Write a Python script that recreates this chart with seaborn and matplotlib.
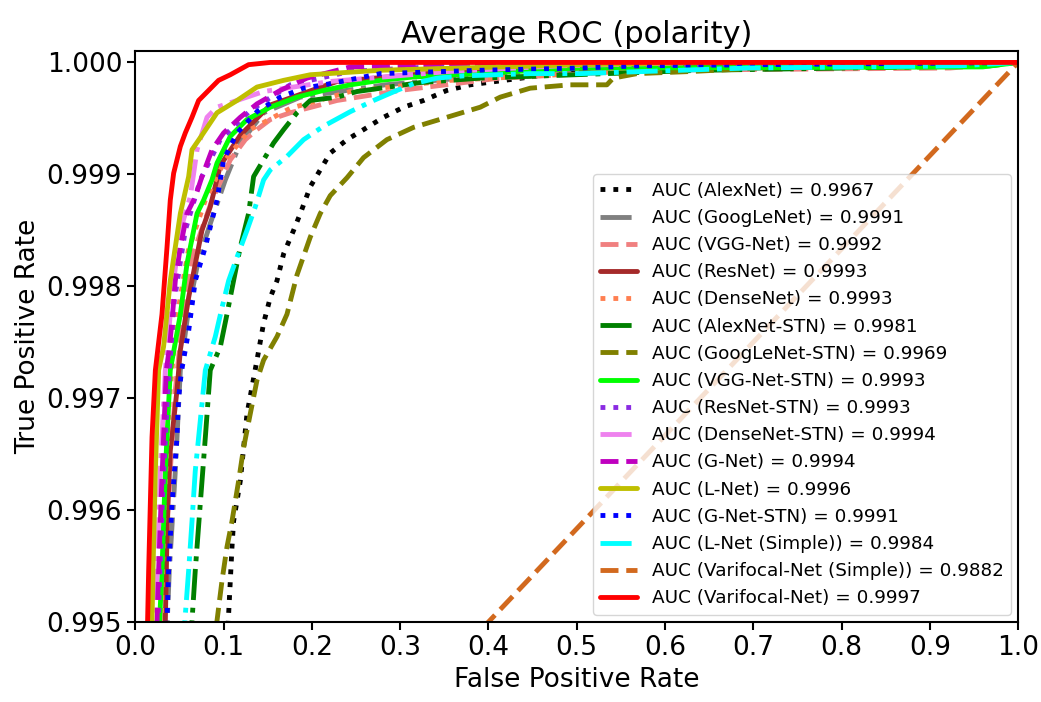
import numpy as np
import pandas as pd
import matplotlib
matplotlib.use('Agg')
import matplotlib.pyplot as plt
import seaborn as sns

sns.set_style('ticks', rc={'axes.edgecolor': 'black', 'text.color': 'black',
                           'axes.labelcolor': 'black', 'xtick.color': 'black',
                           'ytick.color': 'black'})
plt.rcParams['font.family'] = ['DejaVu Sans']

# values (fpr, tpr)
alexnet_fpr = [0.0, 0.1053, 0.1076, 0.1095, 0.1113, 0.1189, 0.1227, 0.1265, 0.1378, 0.1453, 0.1529, 0.1605, 0.1680, 0.1793, 0.1869, 0.1982, 0.2208, 0.2398, 0.2586, 0.2812, 0.3039, 0.3265, 0.3530, 0.3794, 0.4663, 0.527, 0.753, 1.0]
alexnet_tpr = [0.0, 0.99501, 0.99537, 0.99567, 0.99590, 0.99626, 0.99656, 0.99686, 0.99734, 0.99767, 0.99790, 0.99805, 0.99829, 0.99850, 0.99865, 0.99889, 0.99919, 0.99931, 0.99940, 0.99951, 0.99960, 0.99966, 0.99975, 0.99980, 0.99989, 0.99992, 0.99995, 1.0]

googlenet_fpr = [0.0, 0.0362, 0.0385, 0.0453, 0.0510, 0.0600, 0.0713, 0.0849, 0.1019, 0.1189, 0.1453, 0.1869, 0.2831, 0.413, 0.583, 0.81, 1.0]
googlenet_tpr = [0.0, 0.99501, 0.99546, 0.99635, 0.99725, 0.99778, 0.99823, 0.99856, 0.99895, 0.99928, 0.99955, 0.99969, 0.99980, 0.99989, 0.99995, 0.99999, 1.0]

vgg_fpr = [0.0, 0.0328, 0.0351, 0.0396, 0.0453, 0.0532, 0.0642, 0.0869, 0.1076, 0.1246, 0.1378, 0.1529, 0.1755, 0.1945, 0.2284, 0.300, 0.413, 0.583, 0.923, 1.0]
vgg_tpr = [0.0, 0.99501, 0.99572, 0.99635, 0.99707, 0.99769, 0.99826, 0.99877, 0.99913, 0.99931, 0.99940, 0.99949, 0.99955, 0.99959, 0.99966, 0.99975, 0.99986, 0.99993, 0.99995, 1.0]

resnet_fpr = [0.0, 0.0340, 0.0362, 0.0396, 0.0472, 0.0510, 0.0604, 0.0679, 0.0755, 0.0849, 0.0963, 0.1189, 0.1529, 0.2285, 0.357, 0.47, 0.64, 1.0]
resnet_tpr = [0.0, 0.99501, 0.99590, 0.99653, 0.99707, 0.99743, 0.99790, 0.99820, 0.99850, 0.99871, 0.99908, 0.99935, 0.99962, 0.99983, 0.99992, 0.99994, 0.99999, 1.0]

densenet_fpr = [0.0, 0.0294, 0.0328, 0.0385, 0.0464, 0.0600, 0.0793, 0.1019, 0.1302, 0.1755, 0.2435, 0.357, 0.527, 0.753, 1.0]
densenet_tpr = [0.0, 0.99501, 0.99608, 0.99698, 0.99769, 0.99832, 0.99877, 0.99913, 0.99940, 0.99959, 0.99974, 0.99984, 0.99991, 0.99997, 1.0]

alexnet_stn_fpr = [0.0, 0.0642, 0.0679, 0.0736, 0.0793, 0.0849, 0.0963, 0.1038, 0.1113, 0.1189, 0.1283, 0.1340, 0.1453, 0.1566, 0.1680, 0.1831, 0.1982, 0.2284, 0.2511, 0.3228, 0.3907, 0.64, 0.968, 1.0]
alexnet_stn_tpr = [0.0, 0.99501, 0.99546, 0.99606, 0.99665, 0.99725, 0.99746, 0.99775, 0.99805, 0.99835, 0.99865, 0.99898, 0.99913, 0.99928, 0.99940, 0.99955, 0.99966, 0.99969, 0.99974, 0.99982, 0.99986, 0.99993, 0.99997, 1.0]

googlenet_stn_fpr = [0.0, 0.0925, 0.0982, 0.1038, 0.1095, 0.1170, 0.1227, 0.1302, 0.1378, 0.1453, 0.1605, 0.1718, 0.1831, 0.1982, 0.2095, 0.2208, 0.2398, 0.2586, 0.2850, 0.3152, 0.3530, 0.3907, 0.4134, 0.4473, 0.4926, 0.5342, 0.5413, 0.5682, 0.632, 0.708, 1.0]
googlenet_stn_tpr = [0.0, 0.99501, 0.99537, 0.99567, 0.99590, 0.99626, 0.99656, 0.99686, 0.99716, 0.99734, 0.99755, 0.99775, 0.99810, 0.99844, 0.99865, 0.99881, 0.99897, 0.99915, 0.99931, 0.99942, 0.99951, 0.99960, 0.99969, 0.99977, 0.99980, 0.99980, 0.99986, 0.99990, 0.99992, 0.99995, 1.0]

vgg_stn_fpr = [0.0, 0.0275, 0.0302, 0.0340, 0.0396, 0.0510, 0.0585, 0.0699, 0.0774, 0.0868, 0.0925, 0.1076, 0.1265, 0.1529, 0.1831, 0.2132, 0.2438, 0.2775, 0.3148, 0.504, 0.960, 1.0]
vgg_stn_tpr = [0.0, 0.99501, 0.99546, 0.99635, 0.99725, 0.99775, 0.99820, 0.99865, 0.99877, 0.99895, 0.99910, 0.99934, 0.99949, 0.99960, 0.99969, 0.99975, 0.99980, 0.99984, 0.99987, 0.99995, 0.99996, 1.0]

resnet_stn_fpr = [0.0, 0.026, 0.0306, 0.0362, 0.0442, 0.0566, 0.0736, 0.0963, 0.1302, 0.1755, 0.2435, 0.357, 1.0]
resnet_stn_tpr = [0.0, 0.99501, 0.99608, 0.99698, 0.99787, 0.99850, 0.99895, 0.99931, 0.99957, 0.99980, 0.99992, 0.99997, 1.0]

densenet_stn_fpr = [0.0, 0.0232, 0.0283, 0.0340, 0.0419, 0.0510, 0.0623, 0.0699, 0.0812, 0.0925, 0.1453, 0.2208, 0.357, 0.481, 0.64, 1.0]
densenet_stn_tpr = [0.0, 0.99501, 0.99635, 0.99725, 0.99796, 0.99850, 0.99880, 0.99922, 0.99951, 0.99960, 0.99974, 0.99983, 0.99992, 0.99997, 1.0, 1.0]

gnet_fpr = [0.0, 0.0246, 0.0264, 0.0291, 0.0320, 0.0351, 0.0388, 0.0422, 0.0453, 0.0510, 0.0585, 0.0680, 0.0755, 0.0869, 0.1000, 0.1189, 0.1378, 0.1642, 0.1945, 0.2435, 0.334, 0.413, 1.0]
gnet_tpr = [0.0, 0.99501, 0.99546, 0.99606, 0.99665, 0.99725, 0.99746, 0.99775, 0.99805, 0.99835, 0.99865, 0.99880, 0.99898, 0.99922, 0.99937, 0.99951, 0.99963, 0.99975, 0.99986, 0.99996, 0.99998, 1.0, 1.0]

lnet_fpr = [0.0, 0.0189, 0.0200, 0.0227, 0.0264, 0.0320, 0.0396, 0.0510, 0.0604, 0.0642, 0.0755, 0.0925, 0.1152, 0.1378, 0.1680, 0.1982, 0.2775, 0.504, 0.64, 1.0]
lnet_tpr = [0.0, 0.99501, 0.99546, 0.99635, 0.99725, 0.99746, 0.99805, 0.99865, 0.99898, 0.99922, 0.99935, 0.99955, 0.99966, 0.99978, 0.99984, 0.99989, 0.99993, 0.99998, 1.0, 1.0]

gnet_stn_fpr = [0.0, 0.0359, 0.0377, 0.0416, 0.0472, 0.0490, 0.0521, 0.0604, 0.0679, 0.0793, 0.0925, 0.1000, 0.1152, 0.1378, 0.1642, 0.1906, 0.2208, 0.2775, 0.3907, 0.504, 0.572, 1.0]
gnet_stn_tpr = [0.0, 0.99501, 0.99546, 0.99606, 0.99665, 0.99700, 0.99723, 0.99760, 0.99805, 0.99835, 0.99877, 0.99913, 0.99937, 0.99956, 0.99969, 0.99977, 0.99981, 0.99990, 0.99993, 0.99995, 0.99997, 1.0]

lnet_simple_fpr = [0.0, 0.0561, 0.0604, 0.0642, 0.0679, 0.0736, 0.0793, 0.0906, 0.0982, 0.1057, 0.1152, 0.1265, 0.1359, 0.1453, 0.1529, 0.1718, 0.1906, 0.2132, 0.2435, 0.2699, 0.2964, 0.3152, 0.3417, 0.3718, 0.4473, 0.504, 0.693, 0.934, 1.0]
lnet_simple_tpr = [0.0, 0.99501, 0.99546, 0.99590, 0.99635, 0.99680, 0.99725, 0.99755, 0.99781, 0.99805, 0.99826, 0.99850, 0.99871, 0.99895, 0.99904, 0.99916, 0.99931, 0.99943, 0.99956, 0.99966, 0.99975, 0.99981, 0.99986, 0.99988, 0.99990, 0.99990, 0.99995, 0.99997, 1.0]

varifocal_simple_fpr = [0.0, 0.28, 1.0]
varifocal_simple_tpr = [0.0, 0.994, 1.0]

varifocal_fpr = [0.0, 0.0139, 0.0151, 0.0170, 0.0189, 0.0227, 0.0302, 0.0359, 0.0396, 0.0434, 0.0510, 0.0566, 0.0642, 0.0717, 0.0830, 0.0943, 0.1076, 0.1283, 0.1529, 1.0]
varifocal_tpr = [0.0, 0.99501, 0.99546, 0.99606, 0.99665, 0.99725, 0.99775, 0.99835, 0.99877, 0.99901, 0.99925, 0.99937, 0.99951, 0.99966, 0.99975, 0.99984, 0.99989, 0.99998, 1.0, 1.0]

names = ['AlexNet', 'GoogLeNet', 'VGG-Net', 'ResNet', 'DenseNet', 'AlexNet-STN',
         'GoogLeNet-STN', 'VGG-Net-STN', 'ResNet-STN', 'DenseNet-STN', 'G-Net',
         'L-Net', 'G-Net-STN', 'L-Net (Simple)', 'Varifocal-Net (Simple)', 'Varifocal-Net']
aucs = [0.9967, 0.9991, 0.9992, 0.9993, 0.9993, 0.9981, 0.9969, 0.9993,
        0.9993, 0.9994, 0.9994, 0.9996, 0.9991, 0.9984, 0.9882, 0.9997]
fprs = [alexnet_fpr, googlenet_fpr, vgg_fpr, resnet_fpr, densenet_fpr, alexnet_stn_fpr,
        googlenet_stn_fpr, vgg_stn_fpr, resnet_stn_fpr, densenet_stn_fpr, gnet_fpr,
        lnet_fpr, gnet_stn_fpr, lnet_simple_fpr, varifocal_simple_fpr, varifocal_fpr]
tprs = [alexnet_tpr, googlenet_tpr, vgg_tpr, resnet_tpr, densenet_tpr, alexnet_stn_tpr,
        googlenet_stn_tpr, vgg_stn_tpr, resnet_stn_tpr, densenet_stn_tpr, gnet_tpr,
        lnet_tpr, gnet_stn_tpr, lnet_simple_tpr, varifocal_simple_tpr, varifocal_tpr]

colors = ['black', 'gray', 'lightcoral', 'brown', 'coral', 'green', 'olive', 'lime',
          'blueviolet', 'violet', 'm', 'y', 'b', 'cyan', 'chocolate', 'r']
styles = [':', '-.', '--', '-']

fig, ax = plt.subplots(figsize=(10.41, 7.02), dpi=100)
for i in range(len(names)):
    df = pd.DataFrame({'fpr': fprs[i], 'tpr': tprs[i]})
    sns.lineplot(data=df, x='fpr', y='tpr', sort=False, ax=ax, color=colors[i],
                 linestyle=styles[i % 4], linewidth=3.5,
                 label='AUC ({}) = {:.4f}'.format(names[i], aucs[i]))

ax.set_xlim(0.0, 1.0)
ax.set_ylim(0.995, 1.0001)
ax.set_xticks(np.arange(0, 1.01, 0.1))
ax.set_yticks([0.995, 0.996, 0.997, 0.998, 0.999, 1.0])
ax.set_yticklabels(['0.995', '0.996', '0.997', '0.998', '0.999', '1.000'])
ax.tick_params(labelsize=19, width=1.5, length=6)
for s in ax.spines.values():
    s.set_linewidth(1.5)
ax.set_xlabel('False Positive Rate', fontsize=19)
ax.set_ylabel('True Positive Rate', fontsize=19)
ax.set_title('Average ROC (polarity)', fontsize=22)
ax.legend(loc='lower right', fontsize=13.2, labelspacing=0.5, borderaxespad=0.4)

plt.subplots_adjust(left=0.13, right=0.978, top=0.927, bottom=0.114)
plt.savefig('out.png', dpi=100)
